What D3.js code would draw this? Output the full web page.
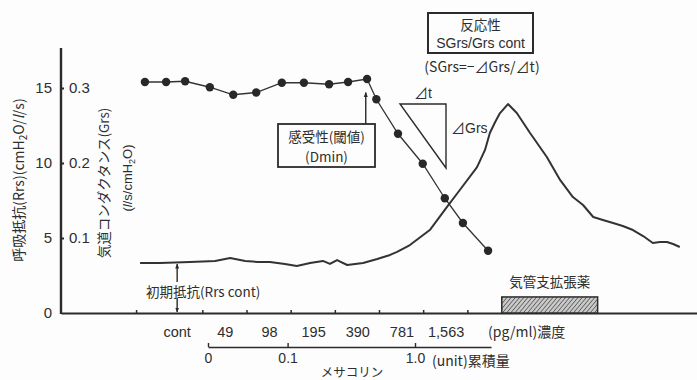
<!DOCTYPE html>
<html>
<head>
<meta charset="utf-8">
<script src="https://cdn.jsdelivr.net/npm/d3@7"></script>
<style>
  body { margin: 0; background: #fff; }
  svg { display: block; background: #fdfdfd; }
  text { font-family: "Liberation Sans", "Noto Sans CJK JP", sans-serif; fill: #2e2e2e; }
  .jp { font-family: "Noto Sans CJK JP", sans-serif; }
</style>
</head>
<body>
<svg id="chart" width="697" height="380"></svg>
<script>
// Methacholine stages (1 minute each), time axis in minutes from the first dose
const concLabels = ["cont", "49", "98", "195", "390", "781", "1,563"];
const stageTicks = [-1.5, 0, 1, 2, 3, 4, 5, 6];
const rrsTicks = [0, 5, 10, 15];
const grsTicks = [0.1, 0.2, 0.3];
const cumTicks = [0, 0.1, 1.0];
const cumTickLabels = ["0", "0.1", "1.0"];

// Respiratory conductance (Grs), dots
const grsTime  = [-1.30, -0.82, -0.39, 0.17, 0.70, 1.22, 1.80, 2.30, 2.87, 3.30, 3.73, 3.94, 4.43, 4.99, 5.49, 5.90, 6.47];
const grsValue = [0.308, 0.308, 0.309, 0.301, 0.291, 0.294, 0.307, 0.307, 0.305, 0.308, 0.312, 0.285, 0.239, 0.199, 0.153, 0.120, 0.083];

// Respiratory resistance (Rrs), continuous trace
const rrsTime  = [-1.41, -0.96, -0.28, 0.29, 0.63, 0.97, 1.26, 1.53, 1.87, 2.14, 2.44, 2.73, 2.89, 3.05, 3.28, 3.46, 3.64, 3.96, 4.25, 4.41, 4.70, 5.15, 5.54, 5.83, 6.22, 6.40, 6.51, 6.63, 6.74, 6.92, 7.12, 7.42, 7.80, 8.10, 8.39, 8.62, 8.85, 9.07, 9.30, 9.52, 9.75, 9.98, 10.20, 10.36, 10.52, 10.66, 10.81];
const rrsValue = [3.33, 3.33, 3.40, 3.47, 3.67, 3.47, 3.40, 3.40, 3.27, 3.13, 3.33, 3.47, 3.27, 3.53, 3.20, 3.27, 3.33, 3.60, 3.87, 4.07, 4.53, 5.53, 7.07, 8.20, 9.73, 10.87, 12.0, 12.73, 13.33, 13.93, 13.33, 12.0, 10.4, 8.87, 7.73, 7.2, 6.4, 6.2, 6.0, 5.8, 5.53, 5.13, 4.67, 4.73, 4.73, 4.6, 4.4];

// Bronchodilator inhalation period
const dilatorStart = 6.78, dilatorEnd = 8.95, dilatorHeight = 1.07;
// Initial resistance marker, threshold (Dmin) marker
const rrsContTime = -0.57, rrsContValue = 3.33;
const dminTime = 3.70, dminGrs = 0.294;

const svg = d3.select("#chart");
const ink = "#2b2b2b";

const x = d3.scaleLinear().domain([-3.2, 11.2]).range([61, 697]);
const yR = d3.scaleLinear().domain([0, 15]).range([313, 88]);
const yG = d3.scaleLinear().domain([0, 0.3]).range([313, 88]);

// hatch pattern
const defs = svg.append("defs");
const pat = defs.append("pattern").attr("id", "hatch").attr("patternUnits", "userSpaceOnUse")
  .attr("width", 3.2).attr("height", 3.2).attr("patternTransform", "rotate(40)");
pat.append("rect").attr("width", 3.2).attr("height", 3.2).attr("fill", "#c9c9c9");
pat.append("line").attr("x1", 0).attr("y1", 0).attr("x2", 0).attr("y2", 3.2).attr("stroke", "#444").attr("stroke-width", 1.3);

// arrowheads
defs.append("marker").attr("id", "arrow").attr("viewBox", "0 0 10 10")
  .attr("refX", 9).attr("refY", 5).attr("markerWidth", 5).attr("markerHeight", 7)
  .attr("markerUnits", "userSpaceOnUse").attr("orient", "auto")
  .append("path").attr("d", "M0,1 L10,5 L0,9 Z").attr("fill", ink);

// left axes
svg.append("line").attr("x1", 61).attr("x2", 61).attr("y1", 48).attr("y2", 314)
  .attr("stroke", ink).attr("stroke-width", 2.4);

const axL = svg.append("g").attr("transform", "translate(61,0)")
  .call(d3.axisLeft(yR).tickValues(rrsTicks).tickSize(0).tickPadding(9).tickFormat(d3.format("d")));
axL.select(".domain").remove();
axL.selectAll("text").attr("font-size", 15).attr("fill", ink);

const axG = svg.append("g").attr("transform", "translate(61,0)")
  .call(d3.axisRight(yG).tickValues(grsTicks).tickSize(3).tickPadding(5).tickFormat(d3.format(".1f")));
axG.select(".domain").remove();
axG.selectAll("line").attr("stroke", ink).attr("stroke-width", 2);
axG.selectAll("text").attr("font-size", 15).attr("fill", ink);

// axis titles
svg.append("text").attr("class", "jp").attr("transform", "translate(24,180) rotate(-90)")
  .attr("text-anchor", "middle").attr("font-size", 14)
  .html('呼吸抵抗(Rrs)(cmH<tspan font-size="10" dy="3">2</tspan><tspan dy="-3">O/</tspan><tspan font-style="italic">l</tspan>/s)');
svg.append("text").attr("class", "jp").attr("transform", "translate(109,183) rotate(-90)")
  .attr("text-anchor", "middle").attr("font-size", 13.5)
  .text("気道コンダクタンス(Grs)");
svg.append("text").attr("transform", "translate(132,178) rotate(-90)")
  .attr("text-anchor", "middle").attr("font-size", 13)
  .html('(<tspan font-style="italic">l</tspan>/s/cmH<tspan font-size="9" dy="3">2</tspan><tspan dy="-3">O)</tspan>');

// bottom axis (time / concentration stages)
const axB = svg.append("g").attr("transform", "translate(0,313)")
  .call(d3.axisBottom(x).tickValues(stageTicks).tickSize(-3).tickSizeOuter(0).tickFormat(""));
axB.select(".domain").attr("stroke", ink).attr("stroke-width", 2.2);
axB.selectAll(".tick line").attr("stroke", ink).attr("stroke-width", 1.5);

svg.append("g").selectAll("text").data(concLabels).join("text")
  .attr("x", (d, i) => x(i === 0 ? -0.57 : i - 0.48)).attr("y", 337)
  .attr("text-anchor", "middle").attr("font-size", 14.5).text(d => d);
svg.append("text").attr("class", "jp").attr("x", 488).attr("y", 337).attr("font-size", 14)
  .text("(pg/ml)濃度");

// cumulative dose axis
const cum = d3.scaleSymlog().constant(0.04).domain([0, 1]).range([208, 415]);
const cumEnd = 3.4;
const cumAxis = cum.copy().domain([0, cumEnd]).range([208, cum(cumEnd)]);
const axC = svg.append("g").attr("transform", "translate(0,347)")
  .call(d3.axisBottom(cumAxis).tickValues(cumTicks).tickSize(-4).tickSizeOuter(0).tickPadding(6)
    .tickFormat((d, i) => cumTickLabels[i]));
axC.select(".domain").attr("stroke", ink).attr("stroke-width", 1.4);
axC.selectAll(".tick line").attr("stroke", ink).attr("stroke-width", 1.4);
axC.selectAll("text").attr("font-size", 14).attr("fill", ink);
svg.append("text").attr("class", "jp").attr("x", 432).attr("y", 366).attr("font-size", 14)
  .text("(unit)累積量");
svg.append("text").attr("class", "jp").attr("x", 352).attr("y", 377).attr("text-anchor", "middle")
  .attr("font-size", 12.5).text("メサコリン");

// bronchodilator bar
svg.append("rect").attr("x", x(dilatorStart)).attr("y", yR(dilatorHeight))
  .attr("width", x(dilatorEnd) - x(dilatorStart)).attr("height", yR(0) - yR(dilatorHeight))
  .attr("fill", "url(#hatch)").attr("stroke", ink).attr("stroke-width", 1.5);
svg.append("text").attr("class", "jp").attr("x", (x(dilatorStart) + x(dilatorEnd)) / 2).attr("y", 287)
  .attr("text-anchor", "middle").attr("font-size", 13.5).text("気管支拡張薬");

// Rrs trace
const rrsData = rrsTime.map((t, i) => [t, rrsValue[i]]);
svg.append("path").datum(rrsData)
  .attr("d", d3.line().x(d => x(d[0])).y(d => yR(d[1])))
  .attr("fill", "none").attr("stroke", "#333").attr("stroke-width", 2).attr("stroke-linejoin", "round");

// Grs line and dots
const grsData = grsTime.map((t, i) => [t, grsValue[i]]);
svg.append("path").datum(grsData)
  .attr("d", d3.line().x(d => x(d[0])).y(d => yG(d[1])))
  .attr("fill", "none").attr("stroke", "#333").attr("stroke-width", 1.3);
svg.append("g").selectAll("circle").data(grsData).join("circle")
  .attr("cx", d => x(d[0])).attr("cy", d => yG(d[1])).attr("r", 4.2).attr("fill", "#262a26");

// initial resistance (double arrow split by label)
const cx0 = x(rrsContTime);
svg.append("line").attr("x1", cx0).attr("x2", cx0).attr("y1", 282).attr("y2", yR(rrsContValue) + 1)
  .attr("stroke", ink).attr("stroke-width", 1.4).attr("marker-end", "url(#arrow)");
svg.append("line").attr("x1", cx0).attr("x2", cx0).attr("y1", 298).attr("y2", yR(0) - 1)
  .attr("stroke", ink).attr("stroke-width", 1.4).attr("marker-end", "url(#arrow)");
svg.append("text").attr("class", "jp").attr("x", 146).attr("y", 297).attr("font-size", 13.5)
  .text("初期抵抗(Rrs cont)");

// threshold (Dmin) box and arrow
const dx = x(dminTime);
svg.append("line").attr("x1", dx).attr("x2", dx).attr("y1", 124).attr("y2", yG(dminGrs))
  .attr("stroke", ink).attr("stroke-width", 1.4).attr("marker-end", "url(#arrow)");
svg.append("rect").attr("x", 278).attr("y", 124).attr("width", 97).attr("height", 43)
  .attr("fill", "#fdfdfd").attr("stroke", ink).attr("stroke-width", 1.8);
svg.append("text").attr("class", "jp").attr("x", 326.5).attr("y", 142).attr("text-anchor", "middle")
  .attr("font-size", 13.5).text("感受性(閾値)");
svg.append("text").attr("class", "jp").attr("x", 326.5).attr("y", 162).attr("text-anchor", "middle")
  .attr("font-size", 13.5).text("(Dmin)");

// slope triangle
svg.append("path").attr("d", "M400,104 H446 V168 Z").attr("fill", "none")
  .attr("stroke", ink).attr("stroke-width", 1.4);
svg.append("text").attr("x", 423).attr("y", 98).attr("text-anchor", "middle").attr("font-size", 14).text("⊿t");
svg.append("text").attr("x", 451).attr("y", 133).attr("font-size", 14).text("⊿Grs");

// reactivity box
svg.append("rect").attr("x", 428).attr("y", 13).attr("width", 105).attr("height", 40)
  .attr("fill", "none").attr("stroke", ink).attr("stroke-width", 2);
svg.append("text").attr("class", "jp").attr("x", 480.5).attr("y", 30).attr("text-anchor", "middle")
  .attr("font-size", 13.5).text("反応性");
svg.append("text").attr("x", 480.5).attr("y", 48).attr("text-anchor", "middle")
  .attr("font-size", 14).text("SGrs/Grs cont");
svg.append("text").attr("class", "jp").attr("x", 482).attr("y", 72).attr("text-anchor", "middle")
  .attr("font-size", 14).text("(SGrs=−⊿Grs/⊿t)");
</script>
</body>
</html>
